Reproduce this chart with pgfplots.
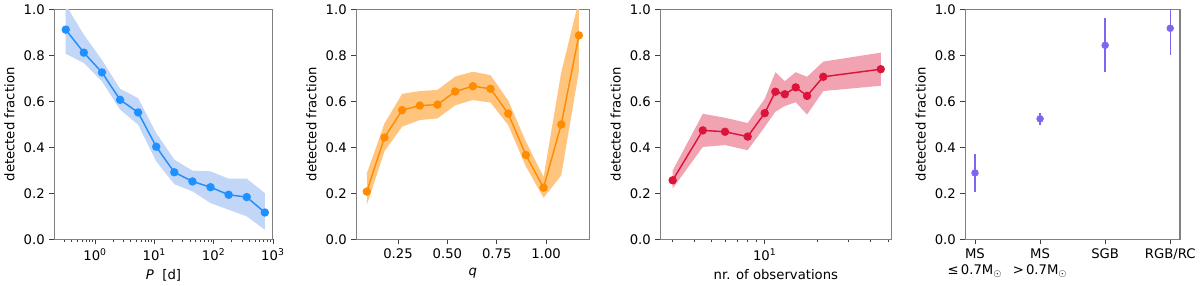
\documentclass[border=0pt]{standalone}
\usepackage{pgfplots}
\pgfplotsset{compat=1.18}
\usepackage{pgfplotstable}
\usepgfplotslibrary{fillbetween}
\usepackage{fontspec}
\setmainfont{DejaVu Sans}

\definecolor{cblue}{RGB}{30,144,255}
\definecolor{bblue}{RGB}{194,214,248}
\definecolor{corange}{RGB}{255,140,0}
\definecolor{borange}{RGB}{255,197,127}
\definecolor{cred}{RGB}{220,20,60}
\definecolor{bred}{RGB}{241,163,178}
\definecolor{cpurple}{RGB}{123,104,238}
\definecolor{spine}{RGB}{128,128,128}

\pgfplotstableread{
x y lo hi
0.32 0.912 0.807 1.02
0.646 0.812 0.767 0.89
1.306 0.726 0.687 0.78
2.64 0.607 0.564 0.655
5.32 0.552 0.499 0.614
10.75 0.403 0.339 0.462
21.7 0.292 0.240 0.347
43.9 0.252 0.209 0.299
88.6 0.227 0.158 0.296
179 0.194 0.129 0.264
362 0.184 0.100 0.264
731 0.117 0.042 0.201
}\tabP

\pgfplotstableread{
x y lo hi
0.092 0.208 0.149 0.287
0.1815 0.443 0.383 0.504
0.271 0.562 0.490 0.633
0.3605 0.582 0.519 0.645
0.450 0.586 0.526 0.650
0.5395 0.643 0.583 0.708
0.629 0.666 0.606 0.729
0.7185 0.655 0.595 0.714
0.808 0.547 0.497 0.604
0.8975 0.367 0.317 0.426
0.987 0.225 0.181 0.271
1.0765 0.500 0.278 0.726
1.166 0.887 0.730 1.04
}\tabQ

\pgfplotstableread{
x y lo hi
3.0 0.257 0.221 0.299
4.45 0.474 0.402 0.546
5.95 0.468 0.410 0.529
8.0 0.447 0.388 0.506
10.0 0.549 0.489 0.611
11.5 0.642 0.555 0.727
13.0 0.631 0.580 0.688
15.0 0.661 0.596 0.727
17.4 0.624 0.543 0.707
21.5 0.707 0.645 0.773
45.6 0.740 0.668 0.812
}\tabN

\pgfplotstableread{
x y ep em
0 0.289 0.083 0.083
1 0.524 0.026 0.028
2 0.844 0.119 0.118
3 0.918 0.112 0.116
}\tabS

\pgfplotsset{panel/.style={
  scale only axis, height=174pt, ymin=0, ymax=1,
  ytick={0,0.2,0.4,0.6,0.8,1}, yticklabels={0.0,0.2,0.4,0.6,0.8,1.0},
  tick align=outside, tick pos=left,
  major tick length=3.6pt, minor tick length=2pt,
  axis line style={spine, line width=0.8pt},
  major tick style={black!75, line width=0.6pt},
  minor tick style={black!75, line width=0.45pt},
  tick label style={font=\fontsize{10}{12}\selectfont},
  label style={font=\fontsize{10}{12}\selectfont},
  ylabel={detected fraction},
  anchor=south west,
}}

\begin{document}
\begin{tikzpicture}
\path (0,0) rectangle (900pt,209.25pt);

% Panel 1
\begin{axis}[panel, at={(34.5pt,29.6pt)}, width=165.5pt,
  xmode=log, xmin=0.204, xmax=1000,
  xtick={1,10,100,1000},
  xticklabels={10\textsuperscript{0},10\textsuperscript{1},10\textsuperscript{2},10\textsuperscript{3}},
  minor xtick={0.3,0.4,0.5,0.6,0.7,0.8,0.9,2,3,4,5,6,7,8,9,20,30,40,50,60,70,80,90,200,300,400,500,600,700,800,900},
  xlabel={\textit{P}\ \ [d]}]
\addplot[name path=hi, draw=none, forget plot] table[x=x,y=hi]{\tabP};
\addplot[name path=lo, draw=none, forget plot] table[x=x,y=lo]{\tabP};
\addplot[fill=bblue, draw=none] fill between[of=hi and lo];
\addplot[cblue, line width=1.1pt, mark=*, mark size=2.6pt, mark options={fill=cblue, draw=none}] table[x=x,y=y]{\tabP};
\end{axis}

% Panel 2
\begin{axis}[panel, at={(263pt,29.6pt)}, width=176.5pt,
  xmin=0.0383, xmax=1.2197,
  xtick={0.25,0.5,0.75,1.0}, xticklabels={0.25,0.50,0.75,1.00},
  xlabel={\textit{q}}]
\addplot[name path=hi, draw=none, forget plot] table[x=x,y=hi]{\tabQ};
\addplot[name path=lo, draw=none, forget plot] table[x=x,y=lo]{\tabQ};
\addplot[fill=borange, draw=none] fill between[of=hi and lo];
\addplot[corange, line width=1.1pt, mark=*, mark size=2.6pt, mark options={fill=corange, draw=none}] table[x=x,y=y]{\tabQ};
\end{axis}

% Panel 3
\begin{axis}[panel, at={(493pt,29.6pt)}, width=175pt,
  xmode=log, xmin=2.55, xmax=52.5,
  xtick={10}, xticklabels={10\textsuperscript{1}},
  minor xtick={3,4,5,6,7,8,9,20,30,40,50},
  xlabel={nr. of observations}]
\addplot[name path=hi, draw=none, forget plot] table[x=x,y=hi]{\tabN};
\addplot[name path=lo, draw=none, forget plot] table[x=x,y=lo]{\tabN};
\addplot[fill=bred, draw=none] fill between[of=hi and lo];
\addplot[cred, line width=1.1pt, mark=*, mark size=2.6pt, mark options={fill=cred, draw=none}] table[x=x,y=y]{\tabN};
\end{axis}

% Panel 4
\begin{axis}[panel, at={(723.75pt,29.6pt)}, width=162.5pt,
  xmin=-0.15, xmax=3.15,
  xtick={0,1,2,3},
  xticklabels={MS\\≤\,0.7M$_\odot$, MS\\>\,0.7M$_\odot$, SGB, RGB/RC},
  xticklabel style={align=center}]
\addplot[cpurple, draw=none, mark=none,
  error bars/.cd, y dir=both, y explicit,
  error bar style={draw=cpurple, line width=1.1pt},
  error mark=none]
  table[x=x, y=y, y error plus=ep, y error minus=em]{\tabS};
\addplot[cpurple, only marks, mark=*, mark size=2.6pt, mark options={fill=cpurple, draw=cpurple}]
  table[x=x, y=y]{\tabS};
\end{axis}
\end{tikzpicture}
\end{document}
